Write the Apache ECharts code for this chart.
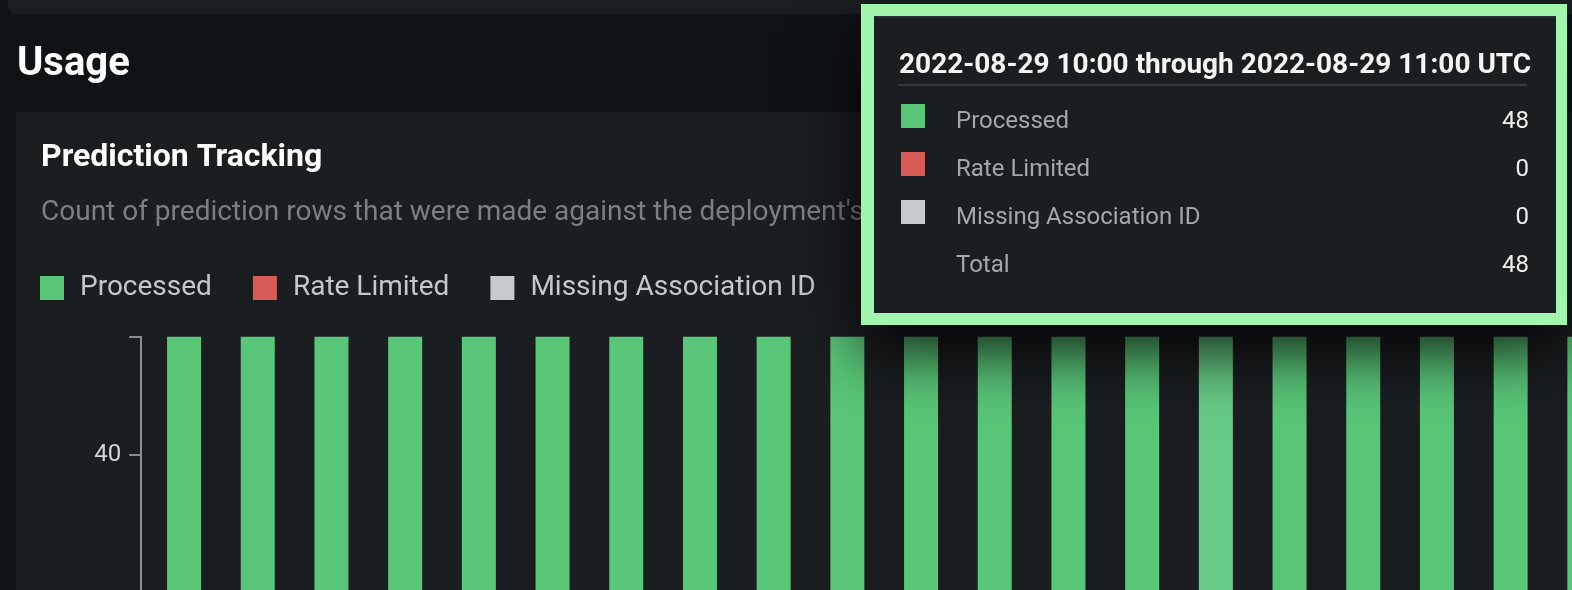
<!DOCTYPE html>
<html>
<head>
<meta charset="utf-8">
<script src="https://cdn.jsdelivr.net/npm/echarts@6/dist/echarts.min.js"></script>
<style>
  html, body { margin: 0; padding: 0; background: #101316; overflow: hidden; width: 1572px; height: 590px; }
  #chart { width: 1800px; height: 1100px; }
</style>
</head>
<body>
<div id="chart"></div>
<script>
// ---- data ----
const categories = [
  '2022-08-28 20:00', '2022-08-28 21:00', '2022-08-28 22:00', '2022-08-28 23:00',
  '2022-08-29 00:00', '2022-08-29 01:00', '2022-08-29 02:00', '2022-08-29 03:00',
  '2022-08-29 04:00', '2022-08-29 05:00', '2022-08-29 06:00', '2022-08-29 07:00',
  '2022-08-29 08:00', '2022-08-29 09:00', '2022-08-29 10:00', '2022-08-29 11:00',
  '2022-08-29 12:00', '2022-08-29 13:00', '2022-08-29 14:00', '2022-08-29 15:00'
];
const endTimes = [
  '2022-08-28 21:00', '2022-08-28 22:00', '2022-08-28 23:00', '2022-08-29 00:00',
  '2022-08-29 01:00', '2022-08-29 02:00', '2022-08-29 03:00', '2022-08-29 04:00',
  '2022-08-29 05:00', '2022-08-29 06:00', '2022-08-29 07:00', '2022-08-29 08:00',
  '2022-08-29 09:00', '2022-08-29 10:00', '2022-08-29 11:00', '2022-08-29 12:00',
  '2022-08-29 13:00', '2022-08-29 14:00', '2022-08-29 15:00', '2022-08-29 16:00'
];
const processed = [48, 48, 48, 48, 48, 48, 48, 48, 48, 48, 48, 48, 48, 48, 48, 48, 48, 48, 48, 48];
const rateLimited = [0, 0, 0, 0, 0, 0, 0, 0, 0, 0, 0, 0, 0, 0, 0, 0, 0, 0, 0, 0];
const missingAssociationId = [0, 0, 0, 0, 0, 0, 0, 0, 0, 0, 0, 0, 0, 0, 0, 0, 0, 0, 0, 0];
const seriesNames = ['Processed', 'Rate Limited', 'Missing Association ID'];
const yMax = 48;
const yInterval = 10;
const hoveredIndex = 14;

const pageTitle = 'Usage';
const panelTitle = 'Prediction Tracking';
const panelSubtitle = "Count of prediction rows that were made against the deployment's";

// ---- styles ----
const colors = ['#59c678', '#d95b55', '#c7cacc'];
const hoverGreen = '#67cb85';
const FONT = 'Roboto, "Noto Sans", sans-serif';

const chart = echarts.init(document.getElementById('chart'), null, { renderer: 'canvas' });

const pitch = 73.7;
const gridLeft = 147.2;
const gridTop = 336.7;
const gridHeight = 708;

const seriesData = [processed, rateLimited, missingAssociationId];

// tooltip graphic built from data
const tipRows = seriesNames.map((n, i) => ({ name: n, value: seriesData[i][hoveredIndex], color: colors[i] }));
const tipTotal = tipRows.reduce((s, r) => s + r.value, 0);
const tipTitle = categories[hoveredIndex] + ' through ' + endTimes[hoveredIndex] + ' UTC';

const TZ = 100;
const tipChildren = [
  { type: 'rect', z: TZ, shape: { x: 861, y: 4, width: 706, height: 321 },
    style: { fill: '#a1f6ae', shadowBlur: 60, shadowOffsetY: 26, shadowColor: 'rgba(0,0,0,0.85)' } },
  { type: 'rect', z: TZ + 1, shape: { x: 874, y: 16, width: 682, height: 297 }, style: { fill: '#1b1e21' } },
  { type: 'rect', z: TZ + 2, shape: { x: 874, y: 16, width: 682, height: 2 }, style: { fill: '#2a2e32' } },
  { type: 'text', z: TZ + 2, x: 899, y: 66, style: { text: tipTitle, font: 'bold 28px ' + FONT, fill: '#f5f5f5', verticalAlign: 'middle' } },
  { type: 'rect', z: TZ + 2, shape: { x: 898, y: 84, width: 629, height: 2 }, style: { fill: '#34383c' } }
];
tipRows.forEach((r, i) => {
  const top = 104 + i * 48;
  tipChildren.push({ type: 'rect', z: TZ + 2, shape: { x: 901, y: top, width: 24, height: 24 }, style: { fill: r.color } });
  tipChildren.push({ type: 'text', z: TZ + 2, x: 956, y: top + 18, style: { text: r.name, font: '24px ' + FONT, fill: '#a3a7ab', verticalAlign: 'middle' } });
  tipChildren.push({ type: 'text', z: TZ + 2, x: 1529, y: top + 18, style: { text: String(r.value), font: '24px ' + FONT, fill: '#eeeeee', align: 'right', verticalAlign: 'middle' } });
});
tipChildren.push({ type: 'text', z: TZ + 2, x: 956, y: 104 + 3 * 48 + 18, style: { text: 'Total', font: '24px ' + FONT, fill: '#a3a7ab', verticalAlign: 'middle' } });
tipChildren.push({ type: 'text', z: TZ + 2, x: 1529, y: 104 + 3 * 48 + 18, style: { text: String(tipTotal), font: '24px ' + FONT, fill: '#eeeeee', align: 'right', verticalAlign: 'middle' } });

const option = {
  animation: false,
  backgroundColor: '#101316',
  textStyle: { fontFamily: FONT },
  graphic: [
    { type: 'rect', z: -10, silent: true, shape: { x: 8, y: 0, width: 1800, height: 14, r: [0, 0, 0, 8] }, style: { fill: '#1c1f22' } },
    { type: 'rect', z: -10, silent: true, shape: { x: 16, y: 112, width: 1800, height: 1000 }, style: { fill: '#1b1e21' } },
    { type: 'text', z: -5, silent: true, x: 17, y: 65, style: { text: pageTitle, font: 'bold 40px ' + FONT, fill: '#ffffff', verticalAlign: 'middle' } },
    { type: 'text', z: -5, silent: true, x: 41, y: 158, style: { text: panelTitle, font: 'bold 32px ' + FONT, fill: '#ffffff', verticalAlign: 'middle' } },
    { type: 'text', z: -5, silent: true, x: 41, y: 213, style: { text: panelSubtitle, font: '28px ' + FONT, fill: '#7b7f83', verticalAlign: 'middle' } }
  ].concat(tipChildren.map(c => Object.assign({ silent: true }, c))),
  legend: {
    left: 40,
    top: 274,
    padding: 0,
    icon: 'rect',
    itemWidth: 24,
    itemHeight: 24,
    itemGap: 41,
    data: seriesNames,
    textStyle: { color: '#c5c8cb', fontSize: 28, fontFamily: FONT, padding: [0, 0, 0, 11] },
    selectedMode: false
  },
  grid: { left: gridLeft, top: gridTop, width: pitch * categories.length, height: gridHeight },
  xAxis: {
    type: 'category',
    data: categories,
    axisLine: { show: false },
    axisTick: { show: false },
    axisLabel: { show: false }
  },
  yAxis: {
    type: 'value',
    min: 0,
    max: yMax,
    interval: yInterval,
    offset: 6,
    axisLine: { show: true, lineStyle: { color: '#8c8f92', width: 2 } },
    axisTick: { show: true, length: 12, lineStyle: { color: '#8c8f92', width: 2 } },
    axisLabel: {
      color: '#d2d4d6', fontSize: 24, fontFamily: FONT, margin: 20,
      formatter: v => (v === yMax ? '' : String(v))
    },
    splitLine: { show: false }
  },
  series: seriesNames.map((name, si) => ({
    name,
    type: 'bar',
    stack: 'total',
    barWidth: 34,
    itemStyle: { color: colors[si] },
    data: seriesData[si].map((v, i) => (si === 0 && i === hoveredIndex) ? { value: v, itemStyle: { color: hoverGreen } } : v)
  }))
};

chart.setOption(option);
</script>
</body>
</html>
